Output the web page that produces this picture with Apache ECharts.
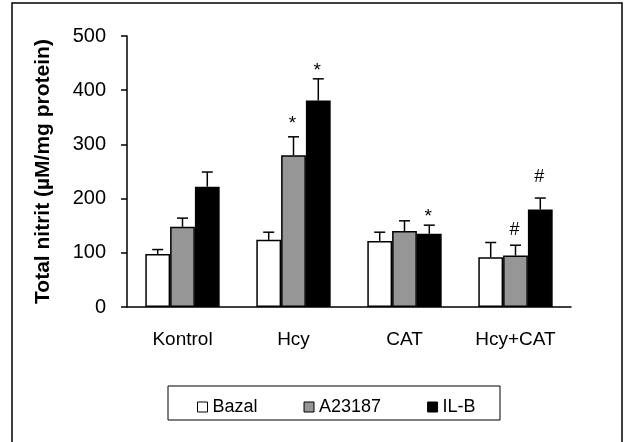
<!DOCTYPE html>
<html>
<head>
<meta charset="utf-8">
<script src="https://cdn.jsdelivr.net/npm/echarts@6/dist/echarts.min.js"></script>
<style>
html,body{margin:0;padding:0;background:#fff;}
#chart{width:624px;height:442px;}
</style>
</head>
<body>
<div id="chart"></div>
<script>
// ---- data ----
const categories = ['Kontrol', 'Hcy', 'CAT', 'Hcy+CAT'];
const seriesNames = ['Bazal', 'A23187', 'IL-B'];
const bazal = [98, 124, 122, 92];
const bazalErr = [8, 14, 16, 27];
const a23187 = [148, 280, 140, 95];
const a23187Err = [16, 34, 19, 19];
const ilb = [222, 381, 135, 180];
const ilbErr = [27, 40, 16, 21];
// significance marks and the value level where each one sits
const bazalMarks = ['', '', '', ''];
const bazalMarkY = [null, null, null, null];
const a23187Marks = ['', '*', '', '#'];
const a23187MarkY = [null, 346, null, 142];
const ilbMarks = ['', '*', '*', '#'];
const ilbMarkY = [null, 443, 174, 240];
const yTicks = [0, 100, 200, 300, 400, 500];

const values = [bazal, a23187, ilb];
const errs = [bazalErr, a23187Err, ilbErr];
const marks = [bazalMarks, a23187Marks, ilbMarks];
const markY = [bazalMarkY, a23187MarkY, ilbMarkY];
const colors = ['#ffffff', '#969696', '#000000'];

const FONT = "'Liberation Sans', Arial, sans-serif";
const GAP = 0.33;

const chart = echarts.init(document.getElementById('chart'), null, {renderer: 'canvas'});

const barSeries = seriesNames.map((n, s) => ({
  name: n,
  type: 'bar',
  data: values[s],
  barGap: '0%',
  barCategoryGap: (GAP * 100) + '%',
  itemStyle: {color: colors[s], borderColor: '#000', borderWidth: 1.5},
  z: 2
}));

const errSeries = seriesNames.map((n, s) => ({
  type: 'custom',
  name: n + '_err',
  z: 3,
  data: categories.map((c, i) => [i, values[s][i], errs[s][i]]),
  encode: {x: 0, y: 1},
  renderItem: function (params, api) {
    const i = params.dataIndex;
    const v = api.value(1), e = api.value(2);
    const band = api.size([1, 0])[0];
    const barW = band * (1 - GAP) / 3;
    const xOff = (s - 1) * barW;
    const pB = api.coord([i, v]);
    const pT = api.coord([i, v + e]);
    const x = pB[0] + xOff;
    const children = [
      {type: 'line', shape: {x1: x, y1: pB[1], x2: x, y2: pT[1]}, style: {stroke: '#000', lineWidth: 1.5}},
      {type: 'line', shape: {x1: x - 5.5, y1: pT[1], x2: x + 5.5, y2: pT[1]}, style: {stroke: '#000', lineWidth: 1.5}}
    ];
    const m = marks[s][i];
    if (m) {
      const pm = api.coord([i, markY[s][i]]);
      const isStar = m === '*';
      children.push({
        type: 'text',
        style: {
          text: m, x: x - 1, y: pm[1] + (isStar ? 4 : 0),
          textAlign: 'center', textVerticalAlign: 'middle',
          font: (isStar ? '19px ' : '18px ') + FONT, fill: '#000'
        }
      });
    }
    return {type: 'group', children: children};
  }
}));

chart.setOption({
  animation: false,
  backgroundColor: '#fff',
  textStyle: {fontFamily: FONT},
  grid: {left: 127, right: 53, top: 36, bottom: 135},
  legend: {
    data: seriesNames,
    left: 192, top: 393,
    itemWidth: 10, itemHeight: 10,
    itemGap: 46,
    icon: 'rect',
    itemStyle: {borderColor: '#000', borderWidth: 1},
    textStyle: {fontFamily: FONT, fontSize: 18, color: '#000'}
  },
  xAxis: {
    type: 'category',
    data: categories,
    axisLine: {lineStyle: {color: '#000', width: 1.5}},
    axisTick: {show: false},
    axisLabel: {color: '#000', fontSize: 19, fontFamily: FONT, margin: 23}
  },
  yAxis: {
    type: 'value',
    min: yTicks[0], max: yTicks[yTicks.length - 1], interval: 100,
    name: 'Total nitrit (µM/mg protein)',
    nameLocation: 'middle',
    nameGap: 73,
    nameTextStyle: {color: '#000', fontSize: 21, fontWeight: 'bold', fontFamily: FONT},
    axisLine: {show: true, lineStyle: {color: '#000', width: 1.5}},
    axisTick: {show: true, length: 6, lineStyle: {color: '#000', width: 1.5}},
    splitLine: {show: false},
    axisLabel: {color: '#000', fontSize: 20, fontFamily: FONT, margin: 21}
  },
  graphic: [
    {type: 'rect', shape: {x: 12, y: 3, width: 610, height: 460}, style: {fill: 'none', stroke: '#000', lineWidth: 1.5}, z: 0, silent: true},
    {type: 'rect', shape: {x: 168, y: 386, width: 332, height: 34}, style: {fill: 'none', stroke: '#000', lineWidth: 1}, z: 0, silent: true}
  ],
  series: barSeries.concat(errSeries)
});
</script>
</body>
</html>
